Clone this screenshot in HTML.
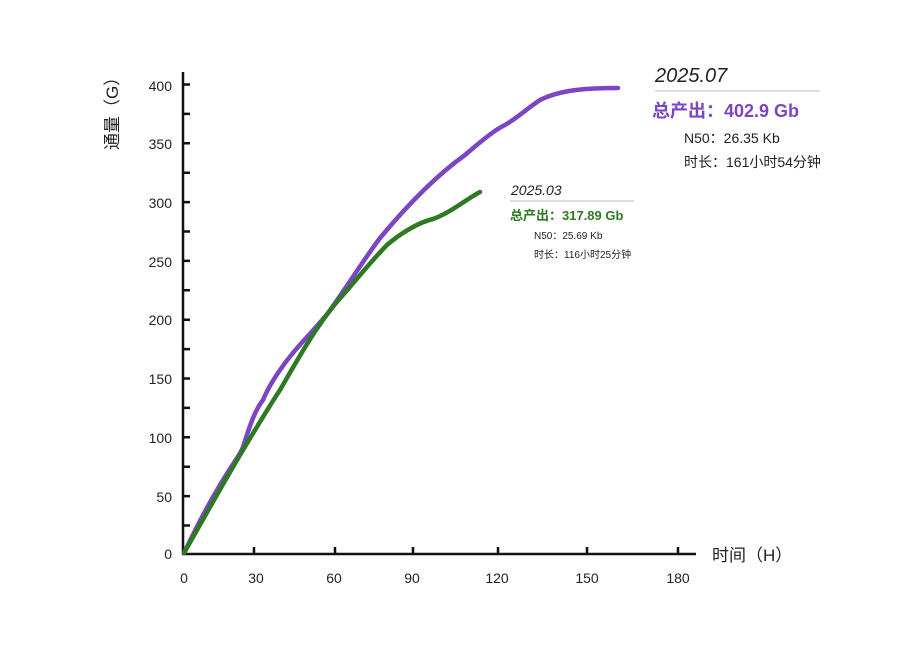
<!DOCTYPE html>
<html><head><meta charset="utf-8"><style>
body{margin:0;background:#fff;}
svg text{font-family:"Liberation Sans","Noto Sans CJK SC",sans-serif;}
</style></head><body>
<svg width="898" height="646" viewBox="0 0 898 646" xmlns="http://www.w3.org/2000/svg">
<rect width="898" height="646" fill="#fff"/>
<g stroke="#111" stroke-width="2.5" fill="none">
<line x1="183" y1="72" x2="183" y2="554"/>
<line x1="182" y1="554" x2="696" y2="554"/>
<path d="M183 84.5h7M183 113.9h7M183 143.3h7M183 172.7h7M183 202.1h7M183 231.5h7M183 260.9h7M183 290.3h7M183 319.7h7M183 349.1h7M183 378.5h7M183 407.9h7M183 437.3h7M183 466.7h7M183 496.1h7M183 525.5h7"/>
<path d="M254 554v-7M335 554v-7M413 554v-7M498 554v-7M587 554v-7M678 554v-7"/>
</g>
<g font-size="14" fill="#222" text-anchor="end">
<text x="172" y="91">400</text><text x="172" y="149">350</text><text x="172" y="208">300</text><text x="172" y="267">250</text><text x="172" y="325">200</text><text x="172" y="384">150</text><text x="172" y="443">100</text><text x="172" y="502">50</text><text x="172" y="559">0</text>
</g>
<g font-size="14" fill="#222" text-anchor="middle">
<text x="184" y="583">0</text><text x="256" y="583">30</text><text x="334" y="583">60</text><text x="412" y="583">90</text><text x="497" y="583">120</text><text x="587" y="583">150</text><text x="678" y="583">180</text>
</g>
<text x="712" y="561" font-size="17" fill="#222">时间（H）</text>
<text transform="translate(106,75) rotate(-90)" x="-75" y="0" font-size="17" fill="#222" text-anchor="start" dominant-baseline="hanging">通量（G）</text>
<path d="M184 553 C195 530 205 510 220 485 S240 455 243 447 C250 425 255 410 263 400 C268 388 273 380 280 370 C295 348 310 335 328 313 C345 290 362 262 380 238 C400 214 430 180 465 155 C480 142 495 130 503 126 C515 120 525 110 540 100 C560 90 585 88 618 88" fill="none" stroke="#7b45c4" stroke-width="4.5" stroke-linecap="round"/>
<path d="M184 553 C200 525 225 480 243 450 C258 425 270 405 280 390 C300 355 320 320 343 295 C358 278 372 260 387 245 C402 232 420 222 433 219 C450 213 465 200 480 192" fill="none" stroke="#2e7a22" stroke-width="4.5" stroke-linecap="round"/>
<text x="655" y="82" font-size="20" font-style="italic" fill="#222">2025.07</text>
<line x1="655" y1="91" x2="820" y2="91" stroke="#bbb" stroke-width="1"/>
<text x="652" y="117" font-size="18" font-weight="bold" fill="#7b45c4">总产出：402.9 Gb</text>
<text x="684" y="143" font-size="14" fill="#222">N50：26.35 Kb</text>
<text x="684" y="167" font-size="14" fill="#222">时长：161小时54分钟</text>
<text x="511" y="195" font-size="14" font-style="italic" fill="#222">2025.03</text>
<line x1="510" y1="201" x2="634" y2="201" stroke="#bbb" stroke-width="1"/>
<text x="510" y="220" font-size="13" font-weight="bold" fill="#2e7a22">总产出：317.89 Gb</text>
<text x="534" y="239" font-size="10" fill="#222">N50：25.69 Kb</text>
<text x="534" y="258" font-size="10" fill="#222">时长：116小时25分钟</text>
</svg>
</body></html>
